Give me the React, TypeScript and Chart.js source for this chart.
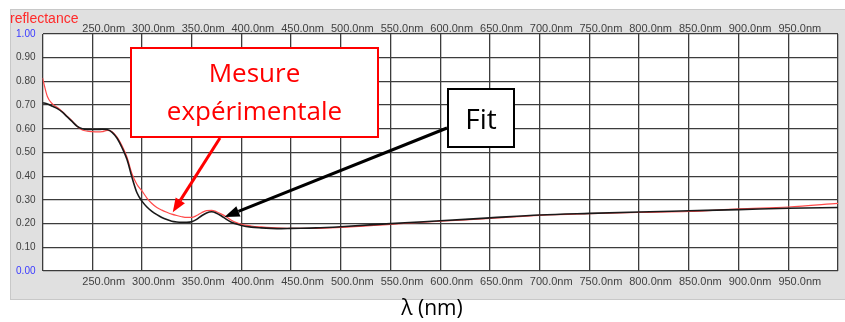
import React, { useEffect, useRef } from "react";
import { Chart, registerables } from "chart.js";

Chart.register(...registerables);

// ---- data ----
const wavelengths = [
  200, 205, 210, 215, 220, 225, 230, 235, 240, 245, 250, 255, 260, 265, 270, 275,
  280, 285, 290, 295, 300, 305, 310, 315, 320, 325, 330, 335, 340, 345, 350, 355,
  360, 365, 370, 375, 380, 385, 390, 395, 400, 410, 420, 430, 440, 450, 475, 500,
  550, 600, 650, 700, 750, 800, 850, 900, 950, 1000,
];

const measured = [
  0.815, 0.735, 0.705, 0.69, 0.672, 0.652, 0.632, 0.61, 0.595, 0.59, 0.588, 0.587,
  0.588, 0.593, 0.588, 0.565, 0.528, 0.48, 0.41, 0.365, 0.338, 0.308, 0.285, 0.268,
  0.257, 0.248, 0.24, 0.234, 0.229, 0.226, 0.226, 0.234, 0.246, 0.255, 0.256, 0.25,
  0.24, 0.228, 0.214, 0.204, 0.197, 0.19, 0.186, 0.183, 0.181, 0.18, 0.18, 0.184,
  0.197, 0.21, 0.222, 0.235, 0.242, 0.247, 0.251, 0.262, 0.27, 0.285,
];

const fit = [
  0.71, 0.705, 0.695, 0.685, 0.67, 0.65, 0.63, 0.61, 0.6, 0.597, 0.597, 0.597,
  0.598, 0.597, 0.585, 0.56, 0.52, 0.47, 0.395, 0.33, 0.295, 0.27, 0.252, 0.238,
  0.226, 0.217, 0.21, 0.207, 0.206, 0.206, 0.208, 0.218, 0.233, 0.245, 0.25, 0.244,
  0.232, 0.218, 0.206, 0.198, 0.192, 0.185, 0.182, 0.18, 0.179, 0.18, 0.182, 0.187,
  0.2, 0.212, 0.224, 0.236, 0.243, 0.249, 0.254, 0.259, 0.265, 0.268,
];

const xMin = 200;
const xMax = 1000;
const xStep = 50;
const yMin = 0;
const yMax = 1;
const yStep = 0.1;

const yAxisName = "reflectance";
const xAxisName = "λ (nm)";
const measuredLabel = ["Mesure", "expérimentale"];
const fitLabel = "Fit";
// arrow targets in data units [wavelength, reflectance]
const measuredTarget = [331, 0.248];
const fitTarget = [383, 0.228];

const W = 845;
const H = 322;

function xLabel(v: number) {
  if (v <= xMin || v >= xMax) return "";
  return v.toFixed(1) + "nm";
}

function drawArrow(
  ctx: CanvasRenderingContext2D,
  x1: number,
  y1: number,
  x2: number,
  y2: number,
  color: string,
  width: number,
  headLen: number,
  headWidth: number
) {
  const ang = Math.atan2(y2 - y1, x2 - x1);
  const bx = x2 - Math.cos(ang) * headLen;
  const by = y2 - Math.sin(ang) * headLen;
  ctx.save();
  ctx.strokeStyle = color;
  ctx.fillStyle = color;
  ctx.lineWidth = width;
  ctx.lineCap = "butt";
  ctx.beginPath();
  ctx.moveTo(x1, y1);
  ctx.lineTo(bx, by);
  ctx.stroke();
  const px = -Math.sin(ang) * headWidth / 2;
  const py = Math.cos(ang) * headWidth / 2;
  ctx.beginPath();
  ctx.moveTo(x2, y2);
  ctx.lineTo(bx + px, by + py);
  ctx.lineTo(bx - px, by - py);
  ctx.closePath();
  ctx.fill();
  ctx.restore();
}

export default function App() {
  const ref = useRef<HTMLCanvasElement>(null);

  useEffect(() => {
    const canvas = ref.current;
    if (!canvas) return;

    const panelPlugin = {
      id: "panel",
      beforeDraw(chart: any) {
        const { ctx, chartArea: a } = chart;
        ctx.save();
        ctx.fillStyle = "#ffffff";
        ctx.fillRect(0, 0, W, H);
        ctx.fillStyle = "#e0e0e0";
        ctx.fillRect(10, 9, W - 10, 291);
        ctx.strokeStyle = "#c8c8c8";
        ctx.lineWidth = 1;
        ctx.strokeRect(10.5, 9.5, W, 290);
        ctx.fillStyle = "#ffffff";
        ctx.fillRect(a.left, a.top, a.right - a.left, a.bottom - a.top);

        ctx.fillStyle = "#ff2a2a";
        ctx.font = '14px "Liberation Sans", Arial, sans-serif';
        ctx.textAlign = "left";
        ctx.textBaseline = "alphabetic";
        ctx.fillText(yAxisName, 10, 23);

        ctx.fillStyle = "#000000";
        ctx.font = '21px "Open Sans", sans-serif';
        ctx.textAlign = "center";
        ctx.fillText(xAxisName, 432, 315);
        ctx.restore();
      },
      afterDraw(chart: any) {
        const { ctx } = chart;
        const xs = chart.scales.x;
        const ys = chart.scales.y;
        ctx.save();
        // measured box
        ctx.fillStyle = "#ffffff";
        ctx.fillRect(130, 47, 249, 91);
        ctx.strokeStyle = "#ff0000";
        ctx.lineWidth = 2;
        ctx.strokeRect(131, 48, 247, 89);
        ctx.fillStyle = "#ff0000";
        ctx.font = '26px "Open Sans", sans-serif';
        ctx.textAlign = "center";
        ctx.textBaseline = "alphabetic";
        ctx.fillText(measuredLabel[0], 254.5, 82);
        ctx.fillText(measuredLabel[1], 254.5, 120);

        // fit box
        ctx.fillStyle = "#ffffff";
        ctx.fillRect(447, 88, 68, 60);
        ctx.strokeStyle = "#000000";
        ctx.lineWidth = 2;
        ctx.strokeRect(448, 89, 66, 58);
        ctx.fillStyle = "#000000";
        ctx.font = '28px "Open Sans", sans-serif';
        ctx.fillText(fitLabel, 481, 129);
        ctx.restore();

        drawArrow(
          ctx,
          220,
          138,
          xs.getPixelForValue(measuredTarget[0]),
          ys.getPixelForValue(measuredTarget[1]),
          "#ff0000",
          3,
          14,
          11
        );
        drawArrow(
          ctx,
          447,
          128,
          xs.getPixelForValue(fitTarget[0]),
          ys.getPixelForValue(fitTarget[1]),
          "#000000",
          3,
          15,
          11
        );
      },
    };

    const gridColor = "#3c3c3c";
    const tickFontX = { family: '"Liberation Sans", Arial, sans-serif', size: 11 };

    const chart = new Chart(canvas, {
      type: "line",
      data: {
        datasets: [
          {
            label: "Fit",
            data: wavelengths.map((w, i) => ({ x: w, y: fit[i] })),
            borderColor: "#1a1a1a",
            borderWidth: 1.6,
            pointRadius: 0,
            cubicInterpolationMode: "monotone",
            fill: false,
          },
          {
            label: "Mesure expérimentale",
            data: wavelengths.map((w, i) => ({ x: w, y: measured[i] })),
            borderColor: "#ff4a4a",
            borderWidth: 1.2,
            pointRadius: 0,
            cubicInterpolationMode: "monotone",
            fill: false,
          },
        ],
      },
      options: {
        responsive: false,
        animation: false,
        layout: { padding: { left: 0, right: 7, top: 0, bottom: 0 } },
        plugins: {
          legend: { display: false },
          tooltip: { enabled: false },
          title: { display: false },
        },
        scales: {
          x: {
            type: "linear",
            position: "bottom",
            min: xMin,
            max: xMax,
            afterFit: (s: any) => {
              s.height = 51;
            },
            ticks: {
              stepSize: xStep,
              autoSkip: false,
              maxRotation: 0,
              labelOffset: 11.5,
              padding: 4,
              color: "#404040",
              font: tickFontX,
              callback: (v: any) => xLabel(Number(v)),
            },
            grid: { color: gridColor, lineWidth: 1.3, drawTicks: false },
            border: { display: false },
          },
          x2: {
            type: "linear",
            position: "top",
            min: xMin,
            max: xMax,
            afterFit: (s: any) => {
              s.height = 34;
            },
            ticks: {
              stepSize: xStep,
              autoSkip: false,
              maxRotation: 0,
              labelOffset: 11.5,
              padding: -2,
              color: "#404040",
              font: tickFontX,
              callback: (v: any) => xLabel(Number(v)),
            },
            grid: { display: false, drawTicks: false },
            border: { display: false },
          },
          y: {
            type: "linear",
            min: yMin,
            max: yMax,
            afterFit: (s: any) => {
              s.width = 42.5;
            },
            ticks: {
              stepSize: yStep,
              padding: 7,
              font: { family: '"Liberation Sans", Arial, sans-serif', size: 10 },
              color: (c: any) => {
                const v = c.tick ? c.tick.value : 0.5;
                return Math.abs(v) < 1e-6 || Math.abs(v - 1) < 1e-6 ? "#3a3aff" : "#404040";
              },
              callback: (v: any) => Number(v).toFixed(2),
            },
            grid: { color: gridColor, lineWidth: 1.3, drawTicks: false },
            border: { display: false },
          },
        },
      },
      plugins: [panelPlugin],
    } as any);

    return () => chart.destroy();
  }, []);

  return (
    <div style={{ position: "fixed", left: 0, top: 0, width: W, height: H, background: "#fff" }}>
      <canvas ref={ref} width={W} height={H} style={{ display: "block", width: W, height: H }} />
    </div>
  );
}
